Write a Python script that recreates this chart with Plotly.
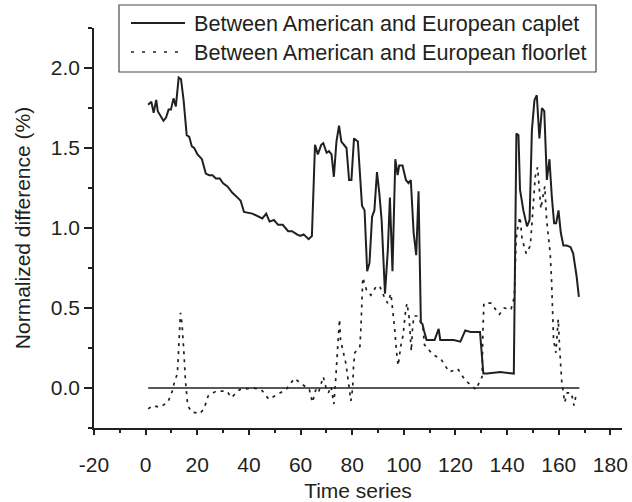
import plotly.graph_objects as go

# ---------------- data ----------------
caplet_x = [1, 2.2, 3.1, 4.1, 4.7, 6.9, 7.9, 8.9, 9.8, 10.8, 11.7, 12.8, 13.7, 14.7, 15.9, 16.9,
            17.9, 18.8, 20.1, 21.8, 23.3, 24.6, 25.9, 27.2, 28.7, 30.0, 31.7, 33.6, 35.6, 36.8,
            38.1, 41.3, 45.2, 46.7, 48.0, 49.7, 51.3, 53.1, 55.2, 56.7, 58.6, 59.9, 61.2, 63.1,
            64.4, 65.6, 66.7, 68.0, 68.8, 70.1, 71.0, 72.0, 72.9, 73.9, 74.9, 75.8, 77.8, 78.8,
            79.7, 80.7, 82.2, 83.8, 84.8, 85.8, 86.7, 87.7, 88.6, 89.6, 90.5, 91.4, 92.7, 93.8,
            94.6, 95.6, 96.7, 97.6, 98.2, 99.5, 100.8, 101.8, 102.7, 103.8, 104.8, 105.7, 106.6,
            107.2, 107.8, 108.8, 110.6, 111.9, 113.5, 114.1, 116.7, 119.3, 121.9, 123.8, 125.8,
            128.4, 129.5, 130.8, 132.3, 137.4, 142.6, 143.6, 144.4, 145.0, 146.3, 147.7, 148.7,
            149.6, 150.6, 151.5, 152.5, 153.5, 154.4, 155.4, 156.4, 157.3, 158.2, 159.0, 159.9,
            160.8, 161.8, 163.1, 164.6, 165.6, 166.9, 167.8]
caplet_y = [1.77, 1.79, 1.72, 1.80, 1.73, 1.67, 1.69, 1.74, 1.74, 1.81, 1.76, 1.94, 1.93, 1.80, 1.58, 1.57,
            1.51, 1.50, 1.46, 1.43, 1.34, 1.33, 1.33, 1.31, 1.31, 1.28, 1.26, 1.22, 1.19, 1.17,
            1.10, 1.09, 1.06, 1.09, 1.04, 1.05, 1.02, 1.02, 0.98, 0.98, 0.96, 0.95, 0.96, 0.93,
            0.95, 1.52, 1.46, 1.52, 1.53, 1.47, 1.48, 1.46, 1.32, 1.54, 1.64, 1.54, 1.50, 1.30,
            1.30, 1.56, 1.54, 1.14, 1.11, 0.73, 0.78, 1.07, 1.11, 1.35, 1.22, 1.05, 0.59, 0.86,
            1.19, 0.73, 1.43, 1.33, 1.39, 1.39, 1.30, 1.28, 1.30, 0.97, 0.83, 1.23, 0.41,
            0.40, 0.36, 0.30, 0.30, 0.30, 0.37, 0.30, 0.30, 0.30, 0.29, 0.36, 0.35,
            0.35, 0.35, 0.09, 0.09, 0.10, 0.09, 1.59, 1.58, 1.24, 1.11, 1.01, 1.05,
            1.61, 1.80, 1.83, 1.56, 1.75, 1.73, 1.30, 1.43, 1.20, 1.03, 1.03, 1.11,
            0.97, 0.89, 0.89, 0.88, 0.84, 0.70, 0.57]

floorlet_x = [1, 2.8, 5.4, 8.6, 10.3, 11.2, 12.3, 12.8, 13.5, 14.1, 14.5, 14.9, 15.4, 15.9, 16.3,
              17.8, 21.0, 22.6, 24.2, 27.2, 31.5, 33.2, 36.4, 41.5, 44.8, 47.7, 50.9, 54.4, 57.6,
              60.8, 63.4, 64.6, 65.9, 66.9, 67.9, 68.8, 69.9, 70.8, 71.8, 72.9, 73.6, 74.0, 74.4,
              75.1, 75.5, 77.6, 78.3, 78.8, 79.5, 80.2, 80.5, 81.0, 83.0, 83.4, 83.7, 84.1, 85.6,
              87.2, 89.5, 90.8, 92.4, 93.7, 95.0, 95.6, 96.5, 97.2, 97.8, 98.8, 99.7, 100.6, 101.2,
              102.0, 102.6, 102.9, 103.3, 103.9, 105.4, 107.4, 108.0, 111.2, 114.4, 117.6, 120.9,
              123.7, 127.9, 130.3, 130.6, 131.0, 133.8, 137.0, 138.9, 141.5, 142.8, 143.5, 144.4,
              145.0, 145.8, 147.4, 149.0, 149.5, 150.3, 150.9, 151.8, 152.4, 153.1, 153.7, 154.6,
              155.3, 155.9, 156.7, 157.2, 157.6, 158.0, 158.9, 159.8, 160.3, 160.8, 161.2, 161.8,
              162.3, 163.3, 164.9, 165.9, 166.9]
floorlet_y = [-0.13, -0.11, -0.12, -0.09, -0.02, 0.04, 0.09, 0.26, 0.47, 0.40, 0.32, 0.20, 0.05, -0.03, -0.11,
              -0.15, -0.16, -0.13, -0.05, -0.02, -0.02, -0.06, -0.01, 0.00, -0.01, -0.07, -0.04, -0.01, 0.06,
              0.02, -0.01, -0.09, -0.01, -0.03, 0.03, 0.07, 0.00, -0.03, 0.01, -0.10, 0.05, 0.13, 0.26,
              0.43, 0.30, 0.15, 0.07, -0.01, -0.08, 0.00, 0.13, 0.22, 0.26, 0.38, 0.55, 0.69, 0.61,
              0.58, 0.64, 0.63, 0.57, 0.53, 0.59, 0.51, 0.36, 0.22, 0.14, 0.26, 0.33, 0.47, 0.53,
              0.45, 0.30, 0.23, 0.36, 0.45, 0.45, 0.38, 0.27, 0.21, 0.18, 0.10, 0.12,
              0.05, -0.01, 0.07, 0.34, 0.53, 0.53, 0.46, 0.50, 0.49, 0.57, 0.93, 1.03,
              1.07, 0.93, 0.84, 0.89, 1.01, 1.24, 1.32, 1.38, 1.24, 1.12, 1.18, 1.26,
              1.05, 0.97, 0.84, 0.68, 0.47, 0.30, 0.22, 0.43, 0.26, 0.11, 0.03, -0.03,
              -0.09, -0.03, -0.03, -0.11, -0.03]

zero_x = [1, 168]
zero_y = [0, 0]

series_names = ["Between American and European caplet", "Between American and European floorlet"]
x_ticks = list(range(-20, 181, 20))
x_tick_text = [str(v) for v in x_ticks]          # plain hyphen for "-20"
y_ticks = [0.0, 0.5, 1.0, 1.5, 2.0]
y_tick_text = ["%.1f" % v for v in y_ticks]

# ---------------- styling ----------------
INK = "#231f20"
FONT = "Liberation Sans, Arial, Helvetica, sans-serif"
FS = 21
W, H = 632, 502
ML, MR, MT, MB = 94, 10, 28, 74
PW, PH = W - ML - MR, H - MT - MB


def px(x):
    return (x - ML) / PW


def py(y):
    return (H - MB - y) / PH


fig = go.Figure()
fig.add_trace(go.Scatter(x=zero_x, y=zero_y, mode="lines",
                         line=dict(color=INK, width=1.3), showlegend=False, hoverinfo="skip"))
fig.add_trace(go.Scatter(x=floorlet_x, y=floorlet_y, mode="lines", name=series_names[1],
                         line=dict(color=INK, width=1.7, dash="3px,5px"), showlegend=False))
fig.add_trace(go.Scatter(x=caplet_x, y=caplet_y, mode="lines", name=series_names[0],
                         line=dict(color=INK, width=2.0), showlegend=False))

# custom legend (box, line samples, labels)
shapes = [
    dict(type="rect", xref="paper", yref="paper", x0=px(119), x1=px(596), y0=py(72), y1=py(5),
         line=dict(color="#4a4a4a", width=1.2), fillcolor="white", layer="above"),
    dict(type="line", xref="paper", yref="paper", x0=px(131), x1=px(185), y0=py(23), y1=py(23),
         line=dict(color=INK, width=2.0)),
    dict(type="line", xref="paper", yref="paper", x0=px(131), x1=px(185), y0=py(52), y1=py(52),
         line=dict(color=INK, width=1.6, dash="3px,8px")),
]
annotations = [
    dict(xref="paper", yref="paper", x=px(192), y=py(23), text=series_names[0], showarrow=False,
         xanchor="left", yanchor="middle", font=dict(family=FONT, size=21.6, color=INK)),
    dict(xref="paper", yref="paper", x=px(192), y=py(52), text=series_names[1], showarrow=False,
         xanchor="left", yanchor="middle", font=dict(family=FONT, size=21.6, color=INK)),
]

axis_common = dict(showline=True, linecolor=INK, linewidth=1.5, showgrid=False, zeroline=False,
                   ticks="outside", tickcolor=INK, tickwidth=1.5, automargin=False,
                   ticklabeloverflow="allow",
                   tickfont=dict(family=FONT, size=FS, color=INK))

fig.update_layout(
    width=W, height=H, margin=dict(l=ML, r=MR, t=MT, b=MB),
    paper_bgcolor="white", plot_bgcolor="white",
    shapes=shapes, annotations=annotations, showlegend=False,
    xaxis=dict(range=[-20, 184.5], tickmode="array", tickvals=x_ticks, ticktext=x_tick_text, ticklen=5,
               ticklabelstandoff=12,
               minor=dict(dtick=10, tick0=0, ticklen=3, tickcolor=INK, tickwidth=1.5, ticks="outside"),
               title=dict(text="Time series", font=dict(family=FONT, size=FS, color=INK), standoff=8),
               **axis_common),
    yaxis=dict(range=[-0.25, 2.25], tickmode="array", tickvals=y_ticks, ticktext=y_tick_text, ticklen=8,
               minor=dict(dtick=0.25, tick0=0, ticklen=4, tickcolor=INK, tickwidth=1.5, ticks="outside"),
               title=dict(text="Normalized difference (%)", font=dict(family=FONT, size=FS, color=INK),
                          standoff=14),
               **axis_common),
)

fig.write_html("out.html")
